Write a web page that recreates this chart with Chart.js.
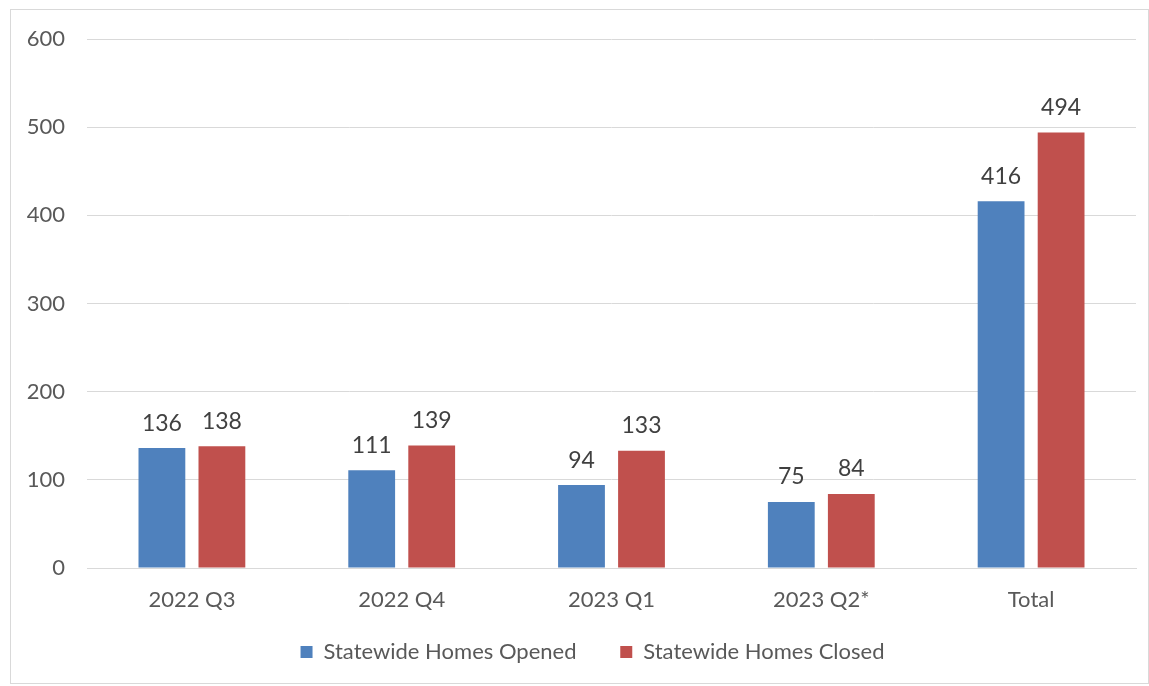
<!DOCTYPE html>
<html>
<head>
<meta charset="utf-8">
<script src="https://cdn.jsdelivr.net/npm/chart.js@4/dist/chart.umd.min.js"></script>
<style>
  body { margin: 0; background: #fff; }
  #box {
    position: absolute; left: 10px; top: 9px;
    width: 1137px; height: 673px;
    border: 1px solid #d9d9d9;
  }
</style>
</head>
<body>
<div id="box"><canvas id="chart"></canvas></div>
<script>
const categories = ['2022 Q3', '2022 Q4', '2023 Q1', '2023 Q2*', 'Total'];
const homesOpened = [136, 111, 94, 75, 416];
const homesClosed = [138, 139, 133, 84, 494];
const yTicks = [0, 100, 200, 300, 400, 500, 600];

const fontFamily = 'Lato, "Open Sans", sans-serif';

// labels with the value on top of each bar
const barLabels = {
  id: 'barLabels',
  afterDatasetsDraw(chart) {
    const ctx = chart.ctx;
    ctx.save();
    ctx.font = '23px ' + fontFamily;
    ctx.fillStyle = '#404040';
    ctx.textAlign = 'center';
    ctx.textBaseline = 'middle';
    chart.data.datasets.forEach((ds, i) => {
      chart.getDatasetMeta(i).data.forEach((bar, j) => {
        ctx.fillText(ds.data[j], bar.x, bar.y - 25);
      });
    });
    ctx.restore();
  }
};

// the legend sits a bit right of the canvas centre
const legendShift = {
  id: 'legendShift',
  afterLayout(chart) {
    chart.legend.left += 19;
    chart.legend.right += 19;
  }
};

new Chart(document.getElementById('chart'), {
  type: 'bar',
  data: {
    labels: categories,
    datasets: [
      {label: 'Statewide Homes Opened', data: homesOpened, backgroundColor: '#4F81BD'},
      {label: 'Statewide Homes Closed', data: homesClosed, backgroundColor: '#C0504D'}
    ]
  },
  options: {
    responsive: true,
    maintainAspectRatio: false,
    animation: false,
    categoryPercentage: 0.572,
    barPercentage: 0.78,
    layout: {padding: {top: 29, right: 12, bottom: 10, left: 0}},
    plugins: {
      tooltip: {enabled: false},
      legend: {
        position: 'bottom',
        labels: {
          boxWidth: 12, boxHeight: 12, padding: 10,
          color: '#595959',
          font: {family: fontFamily, size: 22},
          // extra gap between the two items
          generateLabels: (chart) => {
            const items = Chart.defaults.plugins.legend.labels.generateLabels(chart);
            items[0].text += '      ';
            return items;
          }
        }
      }
    },
    scales: {
      x: {
        afterFit: (s) => { s.height = 63; },
        grid: {display: false},
        border: {color: '#d9d9d9', width: 1},
        ticks: {color: '#595959', padding: 11, font: {family: fontFamily, size: 22}}
      },
      y: {
        min: 0, max: 600,
        afterBuildTicks: (s) => { s.ticks = yTicks.map((v) => ({value: v})); },
        afterFit: (s) => { s.width = 76; s.paddingTop = 0; s.paddingBottom = 0; },
        grid: {color: '#d9d9d9', lineWidth: 1, drawTicks: false},
        border: {display: false},
        ticks: {color: '#595959', padding: 22, font: {family: fontFamily, size: 22}}
      }
    }
  },
  plugins: [barLabels, legendShift]
});
</script>
</body>
</html>
